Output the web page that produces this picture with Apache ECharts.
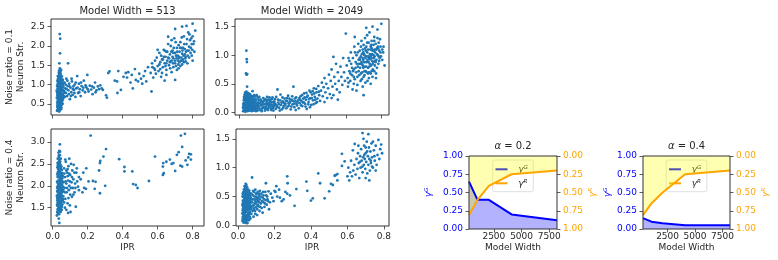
<!DOCTYPE html>
<html>
<head>
<meta charset="utf-8">
<script src="https://cdn.jsdelivr.net/npm/echarts@6/dist/echarts.min.js"></script>
<style>
html,body{margin:0;padding:0;background:#fff}
#main{width:778px;height:260px}
</style>
</head>
<body>
<div id="main"></div>
<script>
// ---- data ----
var iprTicks = [0, 0.2, 0.4, 0.6, 0.8];
var strTicks513n01 = [0.5, 1.0, 1.5, 2.0, 2.5];
var strTicks2049 = [0.0, 0.5, 1.0, 1.5];
var strTicks513n04 = [1.5, 2.0, 2.5, 3.0];
var gammaTicks = [0, 0.25, 0.5, 0.75, 1];
var widthTicks = [2500, 5000, 7500];

// Model Width = 513, noise 0.1
var pts513n01 = [
 [0.025,0.32],[0.031,0.35],[0.037,0.30],[0.042,0.38],[0.028,0.41],[0.035,0.44],[0.046,0.42],[0.030,0.48],[0.039,0.50],[0.050,0.47],
 [0.026,0.53],[0.033,0.56],[0.044,0.55],[0.055,0.58],[0.029,0.60],[0.038,0.62],[0.048,0.63],[0.024,0.66],[0.034,0.68],[0.042,0.70],
 [0.052,0.67],[0.060,0.65],[0.027,0.72],[0.036,0.75],[0.045,0.74],[0.056,0.76],[0.031,0.79],[0.040,0.80],[0.049,0.82],[0.023,0.84],
 [0.033,0.86],[0.043,0.87],[0.053,0.85],[0.062,0.83],[0.028,0.90],[0.037,0.92],[0.047,0.91],[0.057,0.93],[0.025,0.96],[0.034,0.98],
 [0.044,0.97],[0.052,1.00],[0.030,1.03],[0.039,1.05],[0.049,1.04],[0.027,1.09],[0.036,1.11],[0.045,1.10],[0.055,1.08],[0.032,1.16],
 [0.041,1.18],[0.050,1.15],[0.029,1.22],[0.038,1.25],[0.047,1.23],[0.035,1.30],[0.044,1.33],[0.040,1.28],[0.058,1.12],[0.061,0.95],
 [0.064,0.78],[0.059,0.72],[0.032,0.64],[0.041,0.58],[0.036,0.52],[0.047,0.36],[0.033,0.39],[0.051,0.53],[0.043,0.95],[0.039,0.88],
 [0.031,0.71],[0.048,0.73],[0.027,0.76],[0.054,0.88],[0.038,0.41],[0.045,0.62],[0.029,1.00],[0.034,1.20],
 [0.026,0.45],[0.034,0.47],[0.042,0.49],[0.050,0.40],[0.057,0.50],[0.030,0.57],[0.040,0.66],[0.050,0.60],[0.058,0.62],[0.030,0.68],
 [0.045,0.78],[0.053,0.72],[0.062,0.70],[0.026,0.80],[0.036,0.83],[0.046,0.86],[0.058,0.86],[0.032,0.95],[0.041,1.00],[0.050,0.94],
 [0.060,1.02],[0.034,1.07],[0.043,1.14],[0.052,1.21],[0.030,1.13],[0.040,1.22],[0.045,1.28],[0.036,1.36],[0.028,0.35],[0.040,0.33],
 [0.040,2.31],[0.043,2.19],[0.042,1.81],[0.038,1.55],[0.048,1.38],[0.041,1.42],
 [0.068,1.05],[0.072,0.90],[0.075,0.78],[0.078,1.15],[0.082,0.70],[0.085,0.96],[0.088,1.55],[0.090,0.85],[0.094,1.02],[0.098,0.62],
 [0.102,0.92],[0.106,0.80],[0.110,1.08],[0.114,0.73],[0.118,0.95],[0.122,0.86],[0.126,1.00],[0.130,0.68],[0.135,0.90],[0.140,1.22],
 [0.145,0.78],[0.150,1.02],[0.155,0.88],[0.160,0.70],[0.165,0.96],[0.172,0.85],[0.178,1.10],[0.185,0.80],[0.192,0.93],[0.198,1.25],
 [0.205,0.82],[0.212,0.97],[0.220,0.87],[0.228,0.75],[0.235,0.92],[0.242,1.05],[0.250,0.85],[0.258,0.95],[0.265,0.88],[0.272,0.98],
 [0.280,0.90],[0.287,0.86],
 [0.066,0.82],[0.070,0.68],[0.074,1.00],[0.080,0.88],[0.084,1.10],[0.092,0.75],[0.096,0.95],[0.104,0.70],[0.108,1.15],[0.116,0.88],
 [0.124,0.78],[0.132,1.05],[0.142,0.92],[0.152,0.80],[0.162,1.05],[0.175,0.92],[0.188,0.98],[0.200,0.88],[0.225,0.95],[0.245,0.80],
 [0.305,0.72],[0.310,0.66],[0.318,1.30],[0.325,1.34],[0.355,1.10],[0.368,1.08],[0.375,1.35],[0.390,0.86],[0.370,0.78],[0.405,1.20],
 [0.418,1.30],[0.425,1.18],[0.432,1.32],[0.445,1.05],[0.452,1.25],[0.458,0.90],[0.470,1.40],[0.475,1.12],[0.488,1.08],[0.495,1.28],
 [0.505,1.15],[0.512,1.02],[0.520,1.22],[0.528,1.35],[0.535,1.08],[0.545,1.45],[0.565,0.82],
 [0.560,1.30],[0.568,1.55],[0.575,1.18],[0.580,1.42],[0.585,1.62],[0.590,1.28],[0.595,1.70],[0.600,1.48],[0.605,1.35],[0.610,1.82],
 [0.615,1.58],[0.620,1.20],[0.625,1.65],[0.630,1.45],[0.635,1.90],[0.640,1.55],[0.645,1.72],[0.650,1.38],[0.655,1.62],[0.660,2.05],
 [0.665,1.50],[0.670,1.78],[0.675,1.60],[0.680,1.32],[0.685,1.88],[0.690,1.68],[0.695,2.20],[0.700,1.55],[0.705,1.75],[0.710,1.95],
 [0.715,1.62],[0.720,1.42],[0.725,1.85],[0.730,2.10],[0.735,1.70],[0.740,1.52],[0.745,1.95],[0.750,2.25],[0.755,1.78],[0.760,1.60],
 [0.765,2.05],[0.770,1.88],[0.775,2.35],[0.780,1.70],[0.785,2.15],[0.790,1.95],[0.795,1.75],[0.800,2.25],[0.805,2.05],[0.810,1.85],
 [0.815,2.40],[0.800,2.58],[0.765,2.52],[0.740,2.50],[0.700,2.44],[0.660,2.24],[0.680,2.15],[0.640,1.88],[0.620,1.75],[0.600,1.90],
 [0.585,1.38],[0.570,1.45],[0.650,1.25],[0.690,1.45],[0.720,2.02],[0.745,1.65],[0.770,1.55],[0.800,1.62],[0.685,1.72],[0.705,1.48],
 [0.725,1.58],[0.755,1.92],[0.630,1.65],[0.660,1.70],[0.675,2.00],[0.700,1.82],[0.740,1.80],[0.780,1.98],[0.700,1.12],[0.640,1.10],
 [0.680,1.62],[0.715,1.75],[0.735,1.95],[0.760,1.72],[0.795,2.05],[0.610,1.52],[0.650,1.55],
 [0.615,1.40],[0.625,1.30],[0.635,1.72],[0.645,1.48],[0.655,1.85],[0.665,1.68],[0.672,1.42],[0.678,1.85],[0.688,1.55],[0.692,1.95],
 [0.698,1.62],[0.703,2.10],[0.708,1.68],[0.712,1.85],[0.718,1.52],[0.722,1.72],[0.728,1.95],[0.732,1.62],[0.738,2.22],[0.742,1.88],
 [0.748,1.75],[0.752,2.05],[0.758,1.68],[0.762,1.85],[0.768,2.18],[0.772,1.75],[0.778,1.88],[0.782,2.30],[0.788,1.82],[0.792,2.20],
 [0.798,1.90],[0.808,2.12],[0.690,1.82],[0.710,1.38],[0.730,1.48],[0.750,1.58],[0.670,1.58],[0.650,1.85],[0.720,1.68],[0.740,1.62]
];

// Model Width = 2049, noise 0.1
var pts2049n01 = [
 [0.022,0.02],[0.028,0.05],[0.034,0.01],[0.040,0.04],[0.046,0.02],[0.052,0.06],[0.058,0.03],[0.064,0.05],[0.070,0.02],[0.025,0.09],
 [0.031,0.11],[0.037,0.08],[0.043,0.10],[0.049,0.12],[0.055,0.09],[0.061,0.11],[0.067,0.08],[0.073,0.10],[0.079,0.07],[0.085,0.09],
 [0.023,0.15],[0.029,0.17],[0.035,0.14],[0.041,0.16],[0.047,0.18],[0.053,0.15],[0.059,0.17],[0.065,0.14],[0.071,0.16],[0.077,0.13],
 [0.083,0.15],[0.089,0.12],[0.026,0.21],[0.032,0.23],[0.038,0.20],[0.044,0.22],[0.050,0.24],[0.056,0.21],[0.062,0.23],[0.068,0.20],
 [0.074,0.19],[0.080,0.21],[0.027,0.27],[0.033,0.29],[0.039,0.26],[0.045,0.28],[0.051,0.30],[0.057,0.27],[0.063,0.25],[0.069,0.26],
 [0.036,0.33],[0.048,0.34],[0.042,0.31],[0.030,0.06],[0.060,0.19],[0.076,0.04],[0.088,0.05],[0.092,0.18],[0.095,0.10],[0.086,0.24],
 [0.024,0.12],[0.054,0.03],[0.066,0.29],[0.072,0.23],[0.078,0.27],[0.082,0.03],[0.094,0.02],[0.047,0.07],[0.039,0.13],[0.058,0.13],
 [0.090,0.28],[0.096,0.22],[0.098,0.30],[0.104,0.26],[0.084,0.30],[0.091,0.08],[0.097,0.15],[0.103,0.03],[0.107,0.12],[0.021,0.08],
 [0.026,0.03],[0.035,0.05],[0.044,0.06],[0.053,0.11],[0.062,0.07],[0.071,0.13],[0.080,0.17],[0.087,0.20],[0.028,0.24],[0.037,0.17],
 [0.046,0.25],[0.055,0.18],[0.064,0.21],[0.073,0.28],[0.081,0.11],[0.034,0.35],[0.030,0.31],[0.040,0.36],[0.052,0.33],[0.060,0.32],
 [0.040,1.08],[0.042,0.93],[0.043,0.88],[0.038,0.68],[0.041,0.66],[0.045,0.67],[0.044,0.45],[0.075,0.37],
 [0.100,0.06],[0.105,0.15],[0.110,0.22],[0.115,0.04],[0.120,0.12],[0.125,0.19],[0.130,0.08],[0.135,0.25],[0.140,0.14],[0.145,0.03],
 [0.150,0.10],[0.155,0.20],[0.160,0.07],[0.165,0.16],[0.170,0.26],[0.175,0.11],[0.180,0.04],[0.185,0.18],[0.190,0.09],[0.195,0.14],
 [0.200,0.23],[0.205,0.06],[0.210,0.12],[0.215,0.40],[0.220,0.17],[0.225,0.08],[0.230,0.21],[0.235,0.13],[0.240,0.05],[0.245,0.19],
 [0.250,0.11],[0.255,0.24],[0.260,0.15],[0.265,0.07],[0.270,0.20],[0.275,0.29],[0.280,0.12],[0.285,0.17],[0.290,0.05],[0.295,0.22],
 [0.300,0.14],[0.305,0.45],[0.310,0.09],[0.315,0.19],[0.320,0.26],[0.325,0.12],[0.330,0.21],[0.335,0.07],[0.340,0.16],[0.345,0.28],
 [0.350,0.20],[0.355,0.11],[0.360,0.24],[0.365,0.33],[0.370,0.15],[0.375,0.22],[0.380,0.06],[0.385,0.29],[0.390,0.18],[0.395,0.38],
 [0.400,0.25],[0.405,0.13],[0.410,0.31],[0.415,0.21],[0.420,0.42],[0.425,0.27],[0.430,0.16],[0.435,0.35],[0.440,0.24],[0.445,0.46],
 [0.450,0.30],[0.102,0.10],[0.108,0.18],[0.112,0.08],[0.118,0.16],[0.124,0.05],[0.128,0.13],[0.133,0.18],[0.138,0.09],[0.143,0.21],
 [0.148,0.15],[0.152,0.06],[0.158,0.13],[0.163,0.22],[0.168,0.10],[0.172,0.18],[0.178,0.14],[0.182,0.23],[0.188,0.07],[0.193,0.17],
 [0.198,0.11],[0.232,0.31],[0.252,0.16],[0.262,0.20],[0.282,0.24],[0.302,0.20],[0.322,0.15],[0.342,0.22],[0.362,0.18],[0.382,0.27],
 [0.402,0.35],[0.422,0.33],
 [0.113,0.27],[0.121,0.22],[0.127,0.02],[0.132,0.14],[0.137,0.20],[0.142,0.07],[0.147,0.23],[0.153,0.16],[0.157,0.27],[0.162,0.04],
 [0.167,0.13],[0.173,0.21],[0.177,0.07],[0.183,0.12],[0.187,0.26],[0.192,0.03],[0.197,0.19],[0.203,0.15],[0.208,0.27],[0.213,0.09],
 [0.218,0.22],[0.223,0.14],[0.228,0.03],[0.238,0.17],[0.243,0.26],[0.248,0.08],[0.258,0.12],[0.268,0.25],[0.273,0.10],[0.278,0.16],
 [0.288,0.20],[0.293,0.10],[0.298,0.28],[0.308,0.15],[0.313,0.24],[0.318,0.04],[0.328,0.18],[0.338,0.25],[0.348,0.12],[0.353,0.30],
 [0.358,0.17],[0.368,0.26],[0.373,0.10],[0.378,0.34],[0.388,0.14],[0.393,0.23],[0.398,0.09],[0.408,0.25],[0.413,0.37],[0.418,0.14],
 [0.428,0.22],[0.433,0.41],[0.438,0.18],[0.448,0.36],
 [0.455,0.20],[0.460,0.38],[0.465,0.52],[0.470,0.28],[0.475,0.44],[0.480,0.60],[0.485,0.35],[0.490,0.50],[0.495,0.25],[0.500,0.42],
 [0.505,0.66],[0.510,0.32],[0.515,0.55],[0.520,0.75],[0.525,0.45],[0.530,0.30],[0.535,0.62],[0.540,0.50],[0.545,0.85],[0.550,0.40],
 [0.555,0.70],[0.560,0.55],[0.565,0.35],[0.570,0.80],[0.575,0.62],[0.580,0.48],[0.585,0.95],[0.590,0.70],[0.595,0.55],[0.600,1.38],
 [0.480,0.18],[0.520,0.25],[0.555,0.22],[0.530,0.97],
 [0.605,0.82],[0.610,0.60],[0.612,0.45],[0.615,0.95],[0.620,0.72],[0.625,0.55],[0.628,1.05],[0.630,0.85],[0.635,0.65],[0.638,0.40],
 [0.640,0.95],[0.645,0.75],[0.648,1.15],[0.650,0.58],[0.655,0.88],[0.658,0.70],[0.660,1.00],[0.665,0.48],[0.668,0.80],[0.670,1.20],
 [0.672,0.92],[0.675,0.65],[0.678,1.08],[0.680,0.78],[0.683,0.55],[0.685,0.98],[0.688,1.25],[0.690,0.85],[0.692,0.70],[0.695,1.10],
 [0.698,0.92],[0.700,0.62],[0.702,1.02],[0.705,0.80],[0.708,1.30],[0.710,0.95],[0.712,0.72],[0.715,1.15],[0.718,0.88],[0.720,1.05],
 [0.722,0.55],[0.725,0.78],[0.728,1.22],[0.730,0.95],[0.733,1.40],[0.735,0.85],[0.738,1.10],[0.740,0.68],[0.742,1.00],[0.745,1.25],
 [0.748,0.90],[0.750,1.08],[0.752,0.75],[0.755,1.18],[0.758,0.95],[0.760,1.32],[0.763,0.82],[0.765,1.05],[0.768,1.20],[0.770,0.60],
 [0.772,0.92],[0.775,1.12],[0.778,1.45],[0.780,1.00],[0.783,0.85],[0.785,1.22],[0.788,1.08],[0.790,0.95],[0.795,1.15],[0.800,1.55],
 [0.805,0.92],[0.810,1.05],[0.818,0.82],[0.750,1.50],[0.715,1.48],[0.695,0.45],[0.660,0.38],[0.740,0.50],[0.700,0.30],[0.650,1.32],
 [0.760,0.72],[0.720,1.35],[0.685,1.15],[0.705,0.65],[0.730,0.70],[0.672,0.72],[0.690,1.02],[0.742,0.82],[0.708,1.12],[0.725,0.98],
 [0.755,0.88],[0.635,0.78],[0.620,0.90],[0.645,0.62],[0.775,0.78],[0.715,0.88],[0.680,0.92],[0.698,0.78],[0.728,0.88],[0.746,1.12],
 [0.762,1.10],[0.778,1.30],[0.792,1.28],
 [0.665,0.62],[0.675,0.85],[0.685,0.68],[0.695,0.95],[0.705,0.72],[0.715,0.98],[0.725,0.68],[0.735,1.02],[0.745,0.72],[0.755,1.00],
 [0.765,0.90],[0.775,1.02],[0.705,0.88],[0.695,0.82],[0.715,0.80],[0.735,0.93],[0.655,0.78],[0.645,0.50],[0.625,0.68],[0.615,0.52],
 [0.690,0.58],[0.710,0.52],[0.730,0.60],[0.750,0.62],[0.770,0.68],[0.785,0.98],[0.795,1.05],[0.805,1.10],[0.720,1.22],[0.740,1.15],
 [0.700,1.18],[0.760,1.25],[0.780,1.15],
 [0.640,0.72],[0.652,1.05],[0.662,0.85],[0.668,1.05],[0.678,0.95],[0.688,0.88],[0.698,1.05],[0.702,0.88],[0.712,1.08],[0.718,0.70],
 [0.722,0.92],[0.732,0.80],[0.738,0.98],[0.742,1.18],[0.748,1.02],[0.752,0.85],[0.758,1.08],[0.762,0.98],[0.768,0.88],[0.772,1.10],
 [0.782,1.12],[0.788,0.90],[0.798,0.98],[0.812,1.15],[0.725,1.10],[0.705,1.00],[0.685,0.85],[0.745,0.95]
];

// Model Width = 513, noise 0.4
var pts513n04 = [
 [0.024,1.32],[0.030,1.38],[0.036,1.35],[0.042,1.42],[0.028,1.46],[0.034,1.50],[0.040,1.48],[0.046,1.53],[0.052,1.45],[0.025,1.56],
 [0.031,1.60],[0.037,1.58],[0.043,1.63],[0.049,1.61],[0.055,1.57],[0.027,1.67],[0.033,1.70],[0.039,1.68],[0.045,1.73],[0.051,1.71],
 [0.057,1.66],[0.024,1.77],[0.030,1.80],[0.036,1.78],[0.042,1.83],[0.048,1.81],[0.054,1.85],[0.060,1.76],[0.026,1.88],[0.032,1.91],
 [0.038,1.89],[0.044,1.94],[0.050,1.92],[0.056,1.96],[0.029,1.99],[0.035,2.02],[0.041,2.00],[0.047,2.05],[0.053,2.03],[0.059,1.98],
 [0.025,2.09],[0.031,2.12],[0.037,2.10],[0.043,2.15],[0.049,2.13],[0.055,2.17],[0.028,2.20],[0.034,2.23],[0.040,2.21],[0.046,2.26],
 [0.052,2.24],[0.030,2.31],[0.036,2.34],[0.042,2.32],[0.048,2.37],[0.027,2.42],[0.033,2.45],[0.039,2.43],[0.045,2.48],[0.031,2.53],
 [0.037,2.57],[0.043,2.55],[0.029,2.62],[0.035,2.66],[0.041,2.70],[0.033,2.76],[0.038,2.80],[0.041,2.95],[0.038,1.15],[0.035,1.25],
 [0.062,2.08],[0.058,1.88],[0.045,1.40],[0.032,2.38],[0.050,2.44],[0.026,1.72],[0.040,1.57],[0.054,2.29],[0.047,1.87],[0.034,2.06],
 [0.039,2.60],[0.044,1.75],[0.036,1.64],[0.052,1.52],
 [0.026,1.40],[0.038,1.43],[0.048,1.50],[0.030,1.53],[0.040,1.62],[0.050,1.66],[0.058,1.70],[0.028,1.62],[0.034,1.74],[0.042,1.78],
 [0.052,1.78],[0.030,1.85],[0.040,1.92],[0.050,1.98],[0.060,1.90],[0.026,1.95],[0.036,1.96],[0.045,2.08],[0.056,2.10],[0.030,2.05],
 [0.040,2.16],[0.050,2.20],[0.058,2.22],[0.026,2.26],[0.034,2.29],[0.044,2.40],[0.052,2.36],[0.030,2.47],[0.040,2.50],[0.036,2.70],
 [0.046,2.62],[0.028,2.52],[0.042,2.78],[0.033,1.45],[0.046,1.45],[0.030,1.72],
 [0.065,2.40],[0.068,1.95],[0.070,2.20],[0.072,1.70],[0.075,2.55],[0.078,2.05],[0.080,1.85],[0.082,2.30],[0.085,1.60],[0.088,2.12],
 [0.090,2.45],[0.092,1.90],[0.095,2.00],[0.098,1.55],[0.100,2.25],[0.102,1.40],[0.105,2.50],[0.108,2.08],[0.110,1.75],[0.112,2.35],
 [0.115,1.95],[0.118,2.15],[0.120,2.48],[0.125,1.85],[0.128,2.05],[0.132,1.52],[0.135,2.30],[0.140,2.10],[0.145,1.98],[0.150,2.20],
 [0.078,1.45],[0.088,1.38],[0.095,2.62],[0.072,2.60],[0.085,2.38],[0.100,1.80],[0.065,1.62],[0.070,1.50],
 [0.066,2.28],[0.070,1.85],[0.074,2.10],[0.078,2.35],[0.082,1.95],[0.086,2.22],[0.090,1.72],[0.094,2.28],[0.098,2.10],[0.104,1.95],
 [0.110,2.20],[0.118,1.80],[0.124,2.30],[0.130,1.95],[0.138,2.40],[0.150,1.90],[0.160,2.15],[0.170,1.85],[0.175,2.30],[0.192,2.40],
 [0.180,1.95],[0.190,1.93],[0.217,3.15],[0.205,2.10],[0.230,2.11],[0.245,2.09],[0.240,1.93],[0.270,1.83],[0.265,2.35],[0.270,2.52],
 [0.272,2.57],[0.290,2.67],[0.300,2.00],[0.305,2.84],[0.380,2.61],[0.410,2.43],[0.410,2.33],[0.455,2.33],[0.460,2.04],[0.475,2.02],
 [0.485,1.95],[0.550,2.11],[0.585,2.67],[0.630,2.25],[0.635,2.29],[0.630,2.44],[0.632,2.52],[0.650,2.55],[0.670,2.60],[0.680,2.50],
 [0.690,2.52],[0.700,2.34],[0.710,2.71],[0.720,2.77],[0.730,2.46],[0.740,2.44],[0.740,2.89],[0.733,3.15],[0.756,3.19],[0.770,2.48],
 [0.780,2.73],[0.790,2.60],[0.775,2.65],[0.760,2.58],[0.790,2.72]
];

// Model Width = 2049, noise 0.4
var pts2049n04 = [
 [0.024,0.08],[0.030,0.10],[0.036,0.06],[0.042,0.12],[0.048,0.09],[0.027,0.15],[0.033,0.18],[0.039,0.14],[0.045,0.17],[0.051,0.13],
 [0.057,0.16],[0.024,0.21],[0.030,0.24],[0.036,0.20],[0.042,0.23],[0.048,0.26],[0.054,0.22],[0.060,0.19],[0.066,0.24],[0.027,0.29],
 [0.033,0.31],[0.039,0.28],[0.045,0.32],[0.051,0.30],[0.057,0.27],[0.063,0.31],[0.069,0.28],[0.024,0.36],[0.030,0.38],[0.036,0.35],
 [0.042,0.39],[0.048,0.37],[0.054,0.40],[0.060,0.36],[0.066,0.38],[0.072,0.34],[0.027,0.43],[0.033,0.45],[0.039,0.42],[0.045,0.46],
 [0.051,0.44],[0.057,0.47],[0.063,0.43],[0.069,0.45],[0.025,0.50],[0.031,0.52],[0.037,0.49],[0.043,0.53],[0.049,0.51],[0.055,0.54],
 [0.061,0.50],[0.067,0.52],[0.029,0.57],[0.035,0.59],[0.041,0.56],[0.047,0.60],[0.053,0.58],[0.059,0.55],[0.038,0.64],[0.044,0.66],
 [0.050,0.62],[0.046,0.70],[0.040,0.05],[0.052,0.04],[0.034,0.26],[0.058,0.33],[0.040,0.47],[0.064,0.15],[0.028,0.33],[0.070,0.48],
 [0.074,0.55],[0.077,0.83],[0.062,0.60],[0.056,0.11],[0.032,0.41],[0.046,0.08],
 [0.026,0.12],[0.032,0.14],[0.038,0.10],[0.044,0.15],[0.050,0.18],[0.056,0.20],[0.062,0.22],[0.029,0.19],[0.035,0.23],[0.041,0.27],
 [0.047,0.30],[0.053,0.34],[0.059,0.29],[0.065,0.33],[0.026,0.26],[0.031,0.34],[0.037,0.31],[0.043,0.35],[0.049,0.41],[0.055,0.37],
 [0.061,0.41],[0.067,0.46],[0.028,0.40],[0.034,0.48],[0.040,0.52],[0.046,0.55],[0.052,0.49],[0.058,0.52],[0.064,0.56],[0.070,0.40],
 [0.026,0.55],[0.032,0.62],[0.038,0.58],[0.044,0.62],[0.050,0.66],[0.056,0.62],[0.036,0.68],[0.042,0.72],[0.033,0.53],[0.072,0.30],
 [0.075,0.45],[0.073,0.20],[0.068,0.12],[0.030,0.05],[0.035,0.12],[0.060,0.09],[0.045,0.04],
 [0.078,0.40],[0.080,0.25],[0.082,0.52],[0.085,0.35],[0.088,0.58],[0.090,0.30],[0.092,0.45],[0.095,0.20],[0.098,0.55],[0.100,0.38],
 [0.102,0.48],[0.105,0.28],[0.108,0.58],[0.110,0.42],[0.112,0.33],[0.115,0.52],[0.118,0.25],[0.120,0.45],[0.125,0.38],[0.128,0.55],
 [0.130,0.30],[0.135,0.48],[0.140,0.40],[0.145,0.32],[0.150,0.58],[0.152,0.44],[0.158,0.36],[0.160,0.50],[0.165,0.42],[0.170,0.28],
 [0.085,0.15],[0.095,0.62],[0.105,0.18],[0.120,0.60],[0.135,0.22],[0.082,0.45],[0.092,0.38],[0.100,0.50],[0.115,0.40],[0.140,0.52],
 [0.080,0.33],[0.083,0.60],[0.086,0.28],[0.090,0.50],[0.093,0.25],[0.096,0.42],[0.099,0.32],[0.103,0.55],[0.106,0.45],[0.109,0.35],
 [0.113,0.48],[0.117,0.55],[0.122,0.32],[0.126,0.50],[0.132,0.42],[0.138,0.58],[0.143,0.45],[0.148,0.38],[0.155,0.52],[0.162,0.45],
 [0.175,0.40],[0.180,0.55],[0.188,0.48],[0.195,0.42],[0.200,0.60],[0.215,0.50],[0.225,0.62],[0.250,0.45],[0.260,0.58],[0.285,0.52],
 [0.153,0.73],[0.167,0.59],[0.205,0.58],[0.210,0.68],[0.230,0.48],[0.240,0.42],[0.270,0.55],[0.270,0.85],[0.272,0.73],[0.310,0.34],
 [0.320,0.63],[0.375,0.76],[0.380,0.60],[0.400,0.43],[0.410,0.47],[0.440,0.90],[0.450,0.73],[0.475,0.47],[0.500,0.59],[0.510,0.72],
 [0.520,0.70],[0.530,0.86],[0.535,0.87],[0.545,0.89],[0.545,0.78],[0.570,1.24],[0.570,1.03],[0.585,1.11],
 [0.600,0.85],[0.605,1.00],[0.610,0.78],[0.615,0.92],[0.620,1.12],[0.625,0.85],[0.630,1.30],[0.632,0.95],[0.638,1.05],[0.640,1.41],
 [0.645,0.88],[0.650,1.15],[0.655,0.98],[0.658,1.25],[0.662,1.08],[0.665,0.82],[0.670,1.20],[0.672,1.00],[0.675,1.32],[0.678,1.12],
 [0.683,1.60],[0.683,0.92],[0.686,1.18],[0.690,1.05],[0.692,1.38],[0.695,1.15],[0.698,0.98],[0.700,1.25],[0.703,1.10],[0.706,1.45],
 [0.709,0.90],[0.712,1.20],[0.715,1.05],[0.718,1.35],[0.720,1.15],[0.723,0.95],[0.726,1.28],[0.729,1.08],[0.732,1.42],[0.735,1.18],
 [0.740,1.00],[0.745,1.30],[0.750,1.12],[0.755,1.38],[0.760,1.05],[0.765,1.22],[0.770,1.48],[0.775,1.15],[0.780,1.32],[0.785,1.40],
 [0.790,1.25],[0.700,0.82],[0.720,0.78],[0.688,1.50],[0.740,1.45],[0.660,1.38],[0.715,1.58],[0.755,0.95],[0.700,1.35],[0.735,1.02],
 [0.682,1.02],[0.708,1.28],[0.728,1.12],[0.692,1.22],[0.748,1.20],[0.668,1.10]
];

// right-hand panels: gamma vs model width
var widths = [257, 1025, 2049, 4097, 8193];
var gammaG_a02 = [0.65, 0.40, 0.40, 0.20, 0.12];
var gammaR_a02 = [0.81, 0.60, 0.41, 0.25, 0.20];
var gammaG_a04 = [0.15, 0.10, 0.08, 0.05, 0.05];
var gammaR_a04 = [0.81, 0.65, 0.50, 0.25, 0.20];

// ---- chart ----
var FONT = 'DejaVu Sans';
var INK = '#262626';
var DOT = '#1f77b4';

function pairUp(xs, ys) {
  return xs.map(function (x, i) { return [x, ys[i]]; });
}

function frame(l, t, w, h) {
  return {left: l, top: t, width: w, height: h, show: true, z: 10,
    backgroundColor: 'rgba(0,0,0,0)', borderColor: '#333', borderWidth: 1};
}

function axis(gi, min, max, ticks, o) {
  o = o || {};
  return {
    type: 'value', gridIndex: gi, min: min, max: max,
    position: o.position, inverse: !!o.inverse,
    splitLine: {show: false},
    axisLine: {show: false, onZero: false},
    axisTick: {show: true, length: 3.5, customValues: ticks, lineStyle: {color: '#333', width: 0.8}},
    axisLabel: {
      show: o.noLabel ? false : true, customValues: ticks,
      fontSize: 9, fontFamily: FONT, color: o.color || INK, margin: o.margin || 6,
      formatter: function (v) { return o.dec == null ? String(v) : v.toFixed(o.dec); }
    }
  };
}

function text(x, y, s, size, color, rot, extra) {
  var st = {text: s, x: 0, y: 0, fontSize: size, fontFamily: FONT, fill: color,
    align: 'center', verticalAlign: 'middle'};
  for (var k in (extra || {})) st[k] = extra[k];
  return {type: 'text', x: x, y: y, rotation: rot || 0, z: 1, silent: true, style: st};
}

function legend(x, y) {
  return [
    {type: 'rect', x: x, y: y, z: 1, silent: true, shape: {x: 0, y: 0, width: 40.6, height: 31.7, r: 2},
      style: {fill: 'rgba(255,255,255,0.8)', stroke: '#d6d6d6', lineWidth: 0.8}},
    {type: 'line', z: 1, silent: true, shape: {x1: x + 2.8, y1: y + 9.3, x2: x + 14.8, y2: y + 9.3}, style: {stroke: '#0000ff', lineWidth: 2}},
    {type: 'line', z: 1, silent: true, shape: {x1: x + 2.8, y1: y + 23.3, x2: x + 14.8, y2: y + 23.3}, style: {stroke: '#ffa500', lineWidth: 2}},
    text(x + 25.5, y + 9.3, 'γᴳ', 9, INK, 0, {align: 'left', fontStyle: 'italic'}),
    text(x + 25.5, y + 23.3, 'γᴿ', 9, INK, 0, {align: 'left', fontStyle: 'italic'})
  ];
}

var chart = echarts.init(document.getElementById('main'), null, {renderer: 'canvas'});

var graphics = [
  text(127.5, 11, 'Model Width = 513', 10, INK),
  text(312, 11, 'Model Width = 2049', 10, INK),
  text(15.5, 67, 'Noise ratio = 0.1\nNeuron Str.', 9, INK, Math.PI / 2, {lineHeight: 11}),
  text(15.5, 177.5, 'Noise ratio = 0.4\nNeuron Str.', 9, INK, Math.PI / 2, {lineHeight: 11}),
  text(127.5, 248, 'IPR', 9, INK),
  text(312, 248, 'IPR', 9, INK),
  text(513, 146.5, '{a|α} = 0.2', 10, INK, 0, {rich: {a: {fontStyle: 'italic', fontSize: 10, fontFamily: FONT, fill: INK}}}),
  text(686.5, 146.5, '{a|α} = 0.4', 10, INK, 0, {rich: {a: {fontStyle: 'italic', fontSize: 10, fontFamily: FONT, fill: INK}}}),
  text(513, 248, 'Model Width', 9, INK),
  text(686.5, 248, 'Model Width', 9, INK),
  text(429, 192.5, 'γᴳ', 9, '#0000ff', Math.PI / 2, {fontStyle: 'italic'}),
  text(593, 192.5, 'γᴿ', 9, '#ffa500', Math.PI / 2, {fontStyle: 'italic'}),
  text(607.5, 192.5, 'γᴳ', 9, '#0000ff', Math.PI / 2, {fontStyle: 'italic'}),
  text(766, 192.5, 'γᴿ', 9, '#ffa500', Math.PI / 2, {fontStyle: 'italic'})
].concat(legend(492.7, 160), legend(666.2, 160));

function scatter(i, pts) {
  return {type: 'scatter', xAxisIndex: i, yAxisIndex: i, data: pts, symbolSize: 2.8,
    itemStyle: {color: DOT, opacity: 1}, silent: true};
}

function gammaLine(xi, yi, vals, color, fill) {
  return {type: 'line', xAxisIndex: xi, yAxisIndex: yi, data: pairUp(widths, vals),
    symbol: 'none', silent: true, lineStyle: {color: color, width: 2}, areaStyle: {color: fill, opacity: 1}};
}

chart.setOption({
  animation: false,
  backgroundColor: '#fff',
  grid: [
    frame(51, 19, 153, 96),
    frame(235, 19, 154, 96),
    frame(51, 129, 153, 97),
    frame(236, 129, 153, 97),
    frame(469, 156, 88, 73),
    frame(643, 156, 87, 73)
  ],
  xAxis: [
    axis(0, -0.0097, 0.865, iprTicks, {noLabel: true}),
    axis(1, -0.024, 0.843, iprTicks, {noLabel: true}),
    axis(2, -0.0097, 0.865, iprTicks, {dec: 1}),
    axis(3, -0.011, 0.828, iprTicks, {dec: 1}),
    axis(4, 257, 8193, widthTicks, {margin: 3.5}),
    axis(5, 257, 8193, widthTicks, {margin: 3.5})
  ],
  yAxis: [
    axis(0, 0.21, 2.70, strTicks513n01, {dec: 1}),
    axis(1, -0.047, 1.635, strTicks2049, {dec: 1}),
    axis(2, 1.08, 3.30, strTicks513n04, {dec: 1}),
    axis(3, -0.01, 1.67, strTicks2049, {dec: 1}),
    axis(4, 0, 1, gammaTicks, {dec: 2, color: '#0000ff'}),
    axis(4, 0, 1, gammaTicks, {dec: 2, color: '#ffa500', position: 'right', inverse: true}),
    axis(5, 0, 1, gammaTicks, {dec: 2, color: '#0000ff'}),
    axis(5, 0, 1, gammaTicks, {dec: 2, color: '#ffa500', position: 'right', inverse: true})
  ],
  series: [
    scatter(0, pts513n01),
    scatter(1, pts2049n01),
    scatter(2, pts513n04),
    scatter(3, pts2049n04),
    gammaLine(4, 4, gammaG_a02, '#0000ff', 'rgba(0,0,255,0.3)'),
    gammaLine(4, 5, gammaR_a02, '#ffa500', 'rgba(255,255,0,0.3)'),
    gammaLine(5, 6, gammaG_a04, '#0000ff', 'rgba(0,0,255,0.3)'),
    gammaLine(5, 7, gammaR_a04, '#ffa500', 'rgba(255,255,0,0.3)')
  ],
  graphic: graphics
});
</script>
</body>
</html>
